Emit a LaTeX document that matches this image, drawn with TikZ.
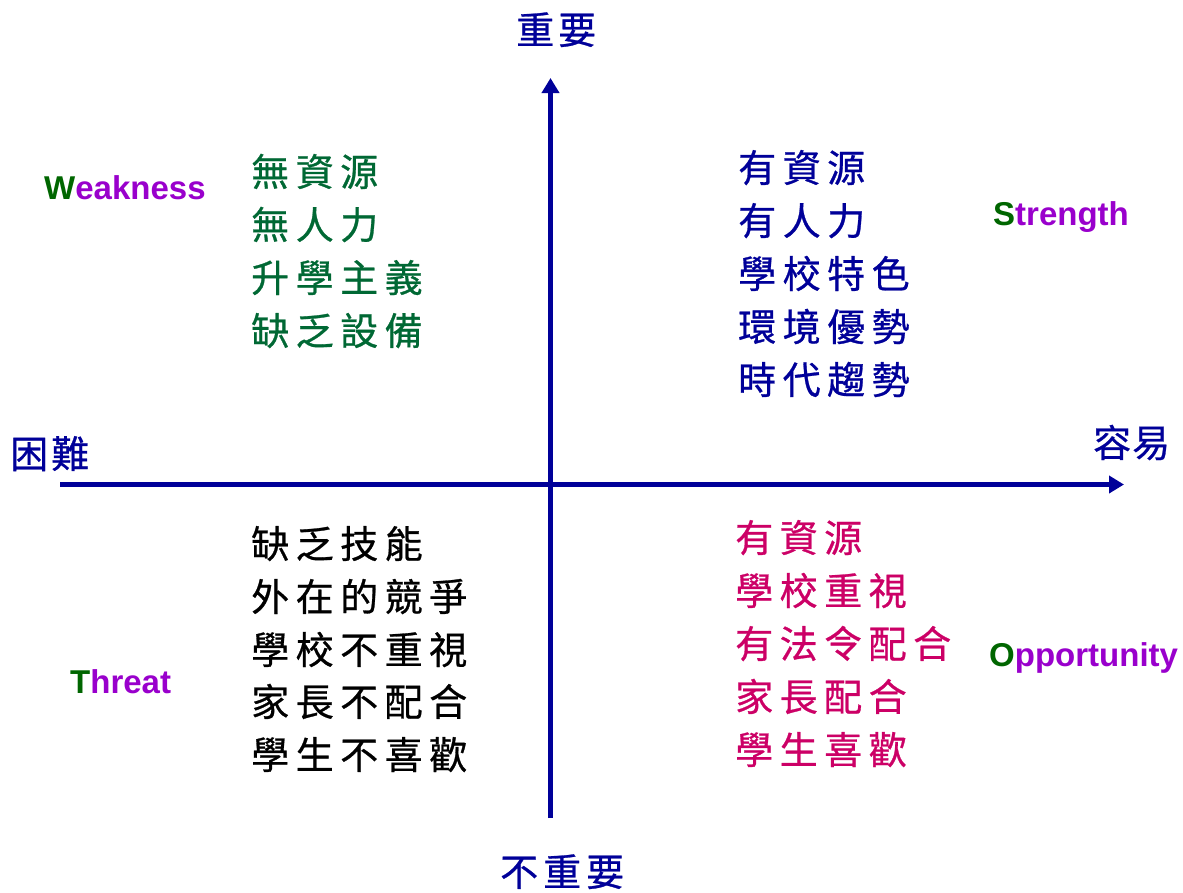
\documentclass[tikz,border=0pt]{standalone}
\usepackage{fontspec}
\usetikzlibrary{arrows.meta}
\newfontfamily\cjk[FakeBold=0.7]{Noto Sans CJK TC}
\newfontfamily\lab{Liberation Sans}
\definecolor{axisblue}{RGB}{0,0,153}
\definecolor{wgreen}{RGB}{0,104,52}
\definecolor{omag}{RGB}{204,0,102}
\definecolor{lgreen}{RGB}{0,102,0}
\definecolor{lpurple}{RGB}{153,0,204}
\newlength\spcgap
\newcommand\spc[2]{\setlength\spcgap{#1}\spcA#2\relax}
\def\spcA#1{\ifx#1\relax\else#1\hspace{\spcgap}\expandafter\spcA\fi}
\tikzset{
  cjktext/.style={inner sep=0pt, anchor=base west, font=\cjk\fontsize{38}{46}\selectfont},
  engtext/.style={inner sep=0pt, anchor=base west, font=\lab\bfseries\fontsize{33}{40}\selectfont, text=lpurple},
  axisline/.style={line width=5pt, draw=axisblue, -{Triangle[length=15pt,width=17pt]}}
}
\begin{document}
\begin{tikzpicture}[x=1pt,y=-1pt]
\useasboundingbox[fill=white] (0,0) rectangle (1183,892);
% axes
\coordinate (xl) at (60,484.5);
\coordinate (xr) at (1124,484.5);
\coordinate (yb) at (550.5,818);
\coordinate (yt) at (550.5,78);
\draw[axisline] (xl) -- (xr);
\draw[axisline] (yb) -- (yt);
% axis labels
\node[cjktext, text=axisblue] (imp) at (516,44) {\spc{4pt}{重要}};
\node[cjktext, text=axisblue] (unimp) at (500,886) {\spc{5pt}{不重要}};
\node[cjktext, text=axisblue] (hard) at (10,468) {\spc{3pt}{困難}};
\node[cjktext, text=axisblue] (easy) at (1093,457) {\spc{1pt}{容易}};
% English labels
\node[engtext] (weak) at (44,199) {\textcolor{lgreen}{W}eakness};
\node[engtext] (str) at (993,225) {\textcolor{lgreen}{S}trength};
\node[engtext] (thr) at (70,693) {\textcolor{lgreen}{T}hreat};
\node[engtext] (opp) at (989,666) {\textcolor{lgreen}{O}pportunity};
% Weakness list
\node[cjktext, text=wgreen] (w1) at (251,186) {\spc{6.5pt}{無資源}};
\node[cjktext, text=wgreen] (w2) at (251,239) {\spc{6.5pt}{無人力}};
\node[cjktext, text=wgreen] (w3) at (251,292) {\spc{6.5pt}{升學主義}};
\node[cjktext, text=wgreen] (w4) at (251,345) {\spc{6.5pt}{缺乏設備}};
% Strength list
\node[cjktext, text=axisblue] (s1) at (738,182) {\spc{6.5pt}{有資源}};
\node[cjktext, text=axisblue] (s2) at (738,235) {\spc{6.5pt}{有人力}};
\node[cjktext, text=axisblue] (s3) at (738,288) {\spc{6.5pt}{學校特色}};
\node[cjktext, text=axisblue] (s4) at (738,341) {\spc{6.5pt}{環境優勢}};
\node[cjktext, text=axisblue] (s5) at (738,394) {\spc{6.5pt}{時代趨勢}};
% Threat list
\node[cjktext, text=black] (t1) at (251,558) {\spc{6.5pt}{缺乏技能}};
\node[cjktext, text=black] (t2) at (251,611) {\spc{6.5pt}{外在的競爭}};
\node[cjktext, text=black] (t3) at (251,664) {\spc{6.5pt}{學校不重視}};
\node[cjktext, text=black] (t4) at (251,716) {\spc{6.5pt}{家長不配合}};
\node[cjktext, text=black] (t5) at (251,769) {\spc{6.5pt}{學生不喜歡}};
% Opportunity list
\node[cjktext, text=omag] (o1) at (735,552) {\spc{6.5pt}{有資源}};
\node[cjktext, text=omag] (o2) at (735,605) {\spc{6.5pt}{學校重視}};
\node[cjktext, text=omag] (o3) at (735,658) {\spc{6.5pt}{有法令配合}};
\node[cjktext, text=omag] (o4) at (735,711) {\spc{6.5pt}{家長配合}};
\node[cjktext, text=omag] (o5) at (735,764) {\spc{6.5pt}{學生喜歡}};
\end{tikzpicture}
\end{document}
